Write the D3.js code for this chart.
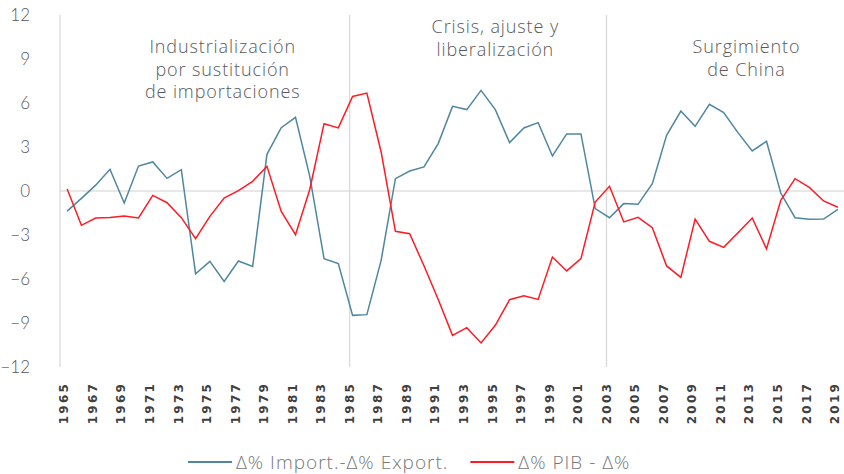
<!DOCTYPE html>
<html>
<head>
<meta charset="utf-8">
<script src="https://cdn.jsdelivr.net/npm/d3@7"></script>
<style>
  body { margin: 0; background: #fff; }
  svg { font-family: "Open Sans", Lato, sans-serif; }
</style>
</head>
<body>
<svg id="chart" width="844" height="474"></svg>
<script>
// years on the category axis
var years = d3.range(1965, 2020);

// Δ% Import. - Δ% Export.
var importExport = [
  -1.37, -0.5, 0.4, 1.48, -0.82, 1.70, 1.98, 0.86, 1.45, -5.64,
  -4.80, -6.16, -4.77, -5.14, 2.50, 4.32, 5.02, 1.0, -4.61, -4.95,
  -8.48, -8.43, -4.73, 0.84, 1.36, 1.64, 3.23, 5.77, 5.55, 6.86,
  5.55, 3.30, 4.30, 4.66, 2.39, 3.89, 3.89, -1.20, -1.82, -0.86,
  -0.91, 0.50, 3.80, 5.45, 4.41, 5.91, 5.34, 3.98, 2.73, 3.39,
  -0.14, -1.82, -1.93, -1.91, -1.25
];

// Δ% PIB - Δ%
var pibDelta = [
  0.14, -2.34, -1.84, -1.80, -1.70, -1.84, -0.30, -0.80, -1.82, -3.25,
  -1.73, -0.48, 0.02, 0.66, 1.68, -1.39, -2.98, 0.1, 4.59, 4.30,
  6.45, 6.68, 2.66, -2.75, -2.91, -5.1, -7.4, -9.84, -9.32, -10.36,
  -9.16, -7.41, -7.14, -7.39, -4.50, -5.45, -4.61, -0.75, 0.32, -2.11,
  -1.80, -2.50, -5.11, -5.89, -1.91, -3.43, -3.84, -2.84, -1.84, -3.95,
  -0.64, 0.84, 0.25, -0.68, -1.11
];

var yTicks = [-12, -9, -6, -3, 0, 3, 6, 9, 12];
var xTickYears = years.filter(function(y) { return (y - 1965) % 2 === 0; });

// period dividers and their labels
var dividers = [1985, 2003];
var periods = [
  { year: 1975.9, lines: ["Industrialización", "por sustitución", "de importaciones"] },
  { year: 1995.0, lines: ["Crisis, ajuste y", "liberalización"] },
  { year: 2012.6, lines: ["Surgimiento", "de China"] }
];

var series = [
  { name: "\u0394% Import.-\u0394% Export.", values: importExport, color: "#4f86a0" },
  { name: "\u0394% PIB - \u0394%", values: pibDelta, color: "#ff1a24" }
];

var svg = d3.select("#chart");
var margin = { top: 15, right: 0, bottom: 107, left: 60 },
    width = 845 - margin.left,
    height = 474 - margin.top - margin.bottom;

var g = svg.append("g").attr("transform", "translate(" + margin.left + "," + margin.top + ")");

var x = d3.scaleBand().domain(years).range([0, width]);
var y = d3.scaleLinear().domain([-12, 12]).range([height, 0]);
function cx(yr) { return x(yr) + x.bandwidth() / 2; }
// position for a fractional year (labels between categories)
function fx(yr) { var f = Math.floor(yr); return cx(f) + (yr - f) * x.step(); }

// left axis line, zero line, period dividers
g.append("line")
  .attr("x1", 0).attr("x2", 0).attr("y1", 0).attr("y2", height)
  .attr("stroke", "#d9d9d9").attr("stroke-width", 1.3);

g.append("line")
  .attr("x1", 0).attr("x2", width).attr("y1", y(0)).attr("y2", y(0))
  .attr("stroke", "#e0e0e0").attr("stroke-width", 1.6);

g.selectAll(".divider")
  .data(dividers)
  .enter().append("line")
    .attr("class", "divider")
    .attr("x1", function(d) { return cx(d) - 3; })
    .attr("x2", function(d) { return cx(d) - 3; })
    .attr("y1", 0).attr("y2", height)
    .attr("stroke", "#d9d9d9").attr("stroke-width", 1.3);

// y axis labels
var yAxis = g.append("g")
  .attr("transform", "translate(-30,0)")
  .call(d3.axisLeft(y).tickValues(yTicks).tickSize(0).tickPadding(0));
yAxis.select(".domain").remove();
yAxis.selectAll("text")
  .attr("fill", "#595959")
  .style("font-size", "17px")
  .style("font-family", "Lato, sans-serif")
  .style("font-weight", 300);

// x axis labels, rotated
var xAxis = g.append("g")
  .attr("transform", "translate(0," + height + ")")
  .call(d3.axisBottom(x).tickValues(xTickYears).tickSize(0).tickPadding(0));
xAxis.select(".domain").remove();
xAxis.selectAll("text")
  .attr("transform", "rotate(-90)")
  .attr("text-anchor", "end")
  .attr("x", -15)
  .attr("y", -3)
  .attr("dy", "0.35em")
  .attr("fill", "#404040")
  .style("font-size", "12px")
  .style("font-weight", 700)
  .style("letter-spacing", "2.2px")
  .style("font-family", "'DejaVu Sans', sans-serif");

// series lines
var line = d3.line()
  .x(function(d, i) { return cx(years[i]); })
  .y(function(d) { return y(d); });

g.selectAll(".series")
  .data(series)
  .enter().append("path")
    .attr("class", "series")
    .attr("fill", "none")
    .attr("stroke", function(d) { return d.color; })
    .attr("stroke-width", 1.5)
    .attr("stroke-linejoin", "miter")
    .attr("d", function(d) { return line(d.values); });

// period annotations
var ann = g.selectAll(".period")
  .data(periods)
  .enter().append("text")
    .attr("class", "period")
    .attr("text-anchor", "middle")
    .attr("fill", "#595959")
    .style("font-size", "18px")
    .style("letter-spacing", "0.9px")
    .style("font-weight", 300);

ann.each(function(d, i) {
  var t = d3.select(this);
  var top = i === 1 ? 18 : 38;
  d.lines.forEach(function(s, k) {
    t.append("tspan")
      .attr("x", fx(d.year))
      .attr("y", top + k * 22.5)
      .text(s);
  });
});

// legend
var legend = svg.append("g").attr("transform", "translate(188,462)");
var lx = 0;
series.forEach(function(s, i) {
  var item = legend.append("g").attr("transform", "translate(" + lx + ",0)");
  item.append("line")
    .attr("x1", 0).attr("x2", 44).attr("y1", 0).attr("y2", 0)
    .attr("stroke", s.color).attr("stroke-width", 2);
  var t = item.append("text")
    .attr("x", 48).attr("dy", "0.35em")
    .attr("fill", "#767676")
    .style("font-size", "19px")
    .style("font-weight", 300)
    .style("letter-spacing", "1px")
    .text(s.name);
  lx += 48 + t.node().getComputedTextLength() + 22;
});
</script>
</body>
</html>
